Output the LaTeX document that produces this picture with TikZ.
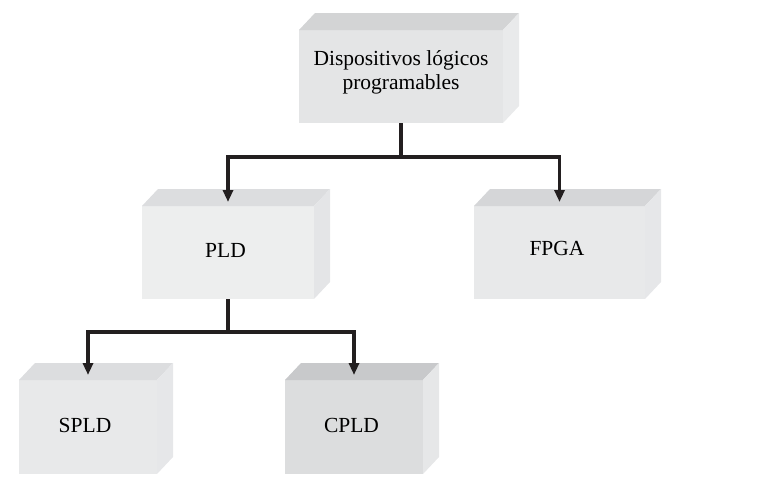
\documentclass[tikz,border=0pt]{standalone}
\usepackage{fontspec}
\setmainfont{Liberation Serif}
\usetikzlibrary{arrows.meta}
\definecolor{lnk}{HTML}{231F20}
\definecolor{topfront}{HTML}{E4E5E6}
\definecolor{toptop}{HTML}{D3D4D5}
\definecolor{topside}{HTML}{E9EAEB}
\definecolor{pldfront}{HTML}{EDEEEE}
\definecolor{pldtop}{HTML}{DCDDDF}
\definecolor{pldside}{HTML}{E4E5E7}
\definecolor{fpgafront}{HTML}{E8E9EA}
\definecolor{fpgatop}{HTML}{D5D6D8}
\definecolor{fpgaside}{HTML}{E6E7E9}
\definecolor{spldfront}{HTML}{E8E9EA}
\definecolor{spldtop}{HTML}{DCDDDF}
\definecolor{spldside}{HTML}{E6E7E9}
\definecolor{cpldfront}{HTML}{DCDDDE}
\definecolor{cpldtop}{HTML}{C8C9CB}
\definecolor{cpldside}{HTML}{E6E7E8}
\newcommand\boxfaces[3]{%
  \fill[#2] (#1.north west) -- ([shift={(16,-17)}]#1.north west) -- ([shift={(16,-17)}]#1.north east) -- (#1.north east) -- cycle;
  \fill[#3] (#1.north east) -- ([shift={(16,-17)}]#1.north east) -- ([shift={(16,-17)}]#1.south east) -- (#1.south east) -- cycle;}
\newcommand\liftby[2]{\raisebox{#1}[\height][\depth]{#2}}
\tikzset{
  boxnode/.style={rectangle, inner sep=0pt, outer sep=0pt, align=center,
    font=\fontsize{21.5}{24}\selectfont, text=black},
  link/.style={line width=3.3pt, draw=lnk},
  linkarrow/.style={link, -{Triangle[length=12pt,width=10pt]}},
}
\begin{document}
\begin{tikzpicture}[x=1pt,y=-1pt]
\useasboundingbox (0,0) rectangle (770,488);
\node[boxnode, fill=topfront, minimum width=204pt, minimum height=93pt] (top) at (401,76.5) {\liftby{4pt}{Dispositivos lógicos}\\\liftby{4pt}{programables}};
\node[boxnode, fill=pldfront, minimum width=172pt, minimum height=93pt] (pld) at (228,252.5) {\liftby{2pt}{PLD\kern5pt}};
\node[boxnode, fill=fpgafront, minimum width=171pt, minimum height=93pt] (fpga) at (559.5,252.5) {\liftby{4pt}{FPGA\kern5pt}};
\node[boxnode, fill=spldfront, minimum width=138pt, minimum height=94pt] (spld) at (88,427) {\liftby{2pt}{SPLD\kern6pt}};
\node[boxnode, fill=cpldfront, minimum width=138pt, minimum height=94pt] (cpld) at (354,427) {\liftby{2pt}{CPLD\kern5pt}};
\boxfaces{top}{toptop}{topside}
\boxfaces{pld}{pldtop}{pldside}
\boxfaces{fpga}{fpgatop}{fpgaside}
\boxfaces{spld}{spldtop}{spldside}
\boxfaces{cpld}{cpldtop}{cpldside}
\draw[linkarrow] (top.south) -- ++(0,34) -| ([yshift=4pt]pld.north);
\draw[linkarrow] (top.south) -- ++(0,34) -| ([yshift=4pt]fpga.north);
\draw[linkarrow] (pld.south) -- ++(0,33) -| ([yshift=5pt]spld.north);
\draw[linkarrow] (pld.south) -- ++(0,33) -| ([yshift=5pt]cpld.north);
\end{tikzpicture}
\end{document}
